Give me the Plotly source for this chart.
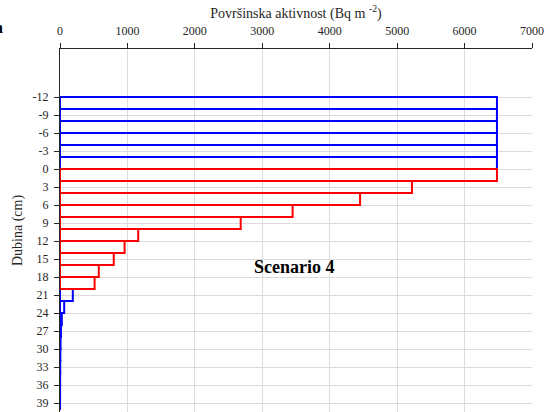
import plotly.graph_objects as go

# Depth layers (cm) – layer centres, each layer 2 cm thick
blue_depths = [-11, -9, -7, -5, -3, -1, 21, 23, 25, 27, 29, 31, 33, 35, 37, 39]
blue_values = [6480, 6480, 6480, 6480, 6480, 6480, 190, 62, 27, 14, 8, 5, 3, 2, 1.5, 1]

red_depths = [1, 3, 5, 7, 9, 11, 13, 15, 17, 19]
red_values = [6480, 5220, 4450, 3450, 2680, 1160, 958, 797, 575, 513]

layer_width = 2
y_ticks = list(range(-12, 40, 3))
y_tick_labels = [str(v) for v in y_ticks]  # plain hyphen minus as in reference
x_ticks = list(range(0, 7001, 1000))
x_tick_labels = [str(v) for v in x_ticks]

fig = go.Figure()
fig.add_trace(go.Bar(
    y=blue_depths, x=blue_values, orientation="h", width=layer_width,
    marker=dict(color="rgba(0,0,0,0)", line=dict(color="#0000ff", width=2)),
    showlegend=False, hoverinfo="skip"))
fig.add_trace(go.Bar(
    y=red_depths, x=red_values, orientation="h", width=layer_width,
    marker=dict(color="rgba(0,0,0,0)", line=dict(color="#ff0000", width=2)),
    showlegend=False, hoverinfo="skip"))

font_family = "Liberation Serif"

fig.update_layout(
    width=550, height=412,
    margin=dict(l=60, r=18, t=49, b=0, autoexpand=False),
    paper_bgcolor="white", plot_bgcolor="white",
    barmode="overlay",
    font=dict(family=font_family, size=12, color="#262626"),
    xaxis=dict(
        side="top", range=[0, 7000], tickvals=x_ticks, ticktext=x_tick_labels,
        showline=True, linecolor="#262626", linewidth=1,
        ticks="outside", ticklen=5, tickcolor="#262626",
        showgrid=True, gridcolor="#dcdcdc", gridwidth=1,
        zeroline=False, automargin=False, ticklabelstandoff=3,
        title=dict(text="Površinska aktivnost (Bq m <sup>-2</sup>)",
                   font=dict(size=14, family=font_family), standoff=2),
    ),
    yaxis=dict(
        range=[40.5, -20], tickvals=y_ticks, ticktext=y_tick_labels,
        showline=True, linecolor="#262626", linewidth=1,
        ticks="outside", ticklen=5, tickcolor="#262626",
        showgrid=True, gridcolor="#dcdcdc", gridwidth=1,
        zeroline=False, ticklabelstandoff=3, automargin=False,
        title=dict(text="Dubina (cm)", font=dict(size=14, family=font_family), standoff=6),
    ),
    annotations=[
        dict(x=3484, y=16.4, xref="x", yref="y", text="<b>Scenario 4</b>",
             showarrow=False, font=dict(size=18, family=font_family, color="black")),
        dict(x=(5 - 60) / 472, y=1 + (49 - 27) / 363, xref="paper", yref="paper",
             text="<b>n</b>", showarrow=False, xanchor="right", yanchor="middle",
             font=dict(size=16, family=font_family, color="black")),
    ],
)

fig.write_html("out.html", config={"displayModeBar": False},
               post_script="document.body.style.margin='0';")
